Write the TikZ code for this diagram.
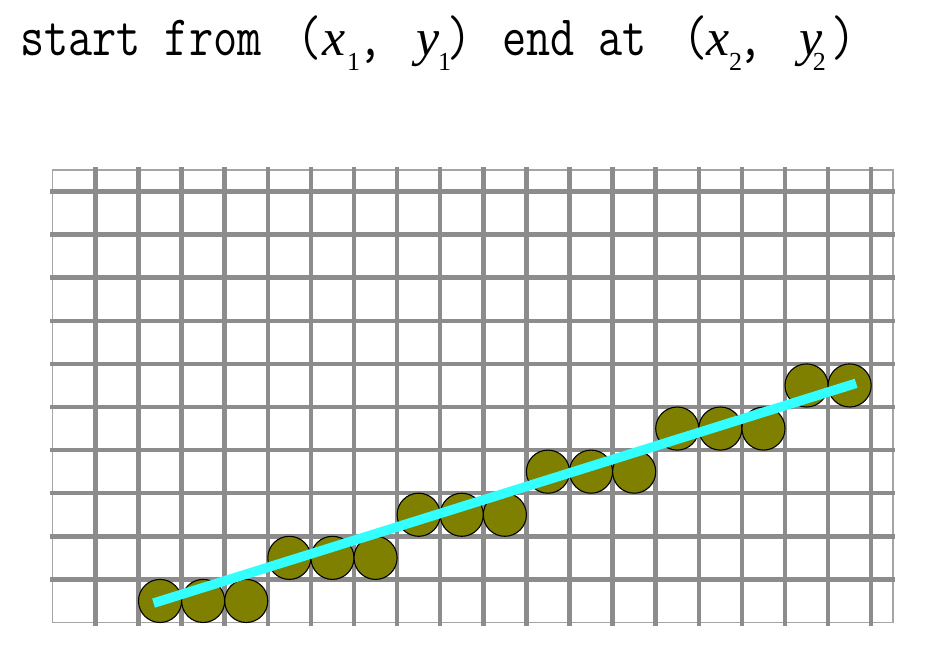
\documentclass[tikz,border=0pt]{standalone}
\usepackage{graphicx}
\usepackage{fontspec}
\newfontfamily\seriffont{Liberation Serif}
\definecolor{gridgray}{RGB}{140,140,140}
\definecolor{framegray}{RGB}{165,165,165}
\definecolor{dotolive}{RGB}{128,128,0}
\definecolor{linecyan}{RGB}{51,255,255}
\newcommand\mtxt[1]{\scalebox{1}[1.22]{\fontsize{46.9}{46.9}\selectfont\ttfamily #1}}
\newcommand\itxt[1]{{\fontsize{52}{52}\selectfont\seriffont\itshape #1}}
\newcommand\stxt[1]{\raisebox{-15pt}{\fontsize{26}{26}\selectfont\seriffont #1}}
\newcommand\pc[2]{\makebox[#1pt][l]{#2}}
\tikzset{
  ttl/.style={anchor=base west, inner sep=0pt, outer sep=0pt},
  gridline/.style={draw=gridgray, line width=4.5pt},
  frameline/.style={draw=framegray, line width=1.5pt},
  pixel/.style={circle, draw=black, line width=1.1pt, fill=dotolive, minimum size=43.1pt, inner sep=0pt},
  ray/.style={draw=linecyan, line width=9.5pt}
}
\begin{document}
\begin{tikzpicture}[x=1pt,y=-1pt]
\useasboundingbox (0,0) rectangle (945,667);
% title
\node[ttl] (title) at (20,55) {\pc{277}{\mtxt{start from}}\pc{25}{\mtxt{(}}\pc{25}{\itxt{x}}\pc{11}{\stxt{1}}\pc{58}{\mtxt{,}}\pc{22}{\itxt{y}}\pc{9}{\stxt{1}}\pc{55}{\mtxt{)}}\pc{181}{\mtxt{end at}}\pc{23}{\mtxt{(}}\pc{23}{\itxt{x}}\pc{9}{\stxt{2}}\pc{61}{\mtxt{,}}\pc{14}{\itxt{y}}\pc{19}{\stxt{2}}\mtxt{)}};
% grid
\begin{scope}[shift={(52.3,622.5)}, x=43.1pt, y=43.1pt]
  \draw[frameline] (0,0) rectangle (19.5,10.5);
  \foreach \i in {1,...,19} \draw[gridline] (\i,-0.08) -- (\i,10.56);
  \foreach \j in {1,...,10} \draw[gridline] (-0.05,\j) -- (19.55,\j);
  \foreach \px/\py [count=\n] in {2.5/0.5,3.5/0.5,4.5/0.5,5.5/1.5,6.5/1.5,7.5/1.5,8.5/2.5,9.5/2.5,10.5/2.5,11.5/3.5,12.5/3.5,13.5/3.5,14.5/4.5,15.5/4.5,16.5/4.5,17.5/5.5,18.5/5.5}
    \node[pixel] (c\n) at (\px,\py) {};
  \coordinate (ls) at (2.35,0.45);
  \coordinate (le) at (18.65,5.55);
  \draw[ray] (ls) -- (le);
\end{scope}
\end{tikzpicture}
\end{document}
